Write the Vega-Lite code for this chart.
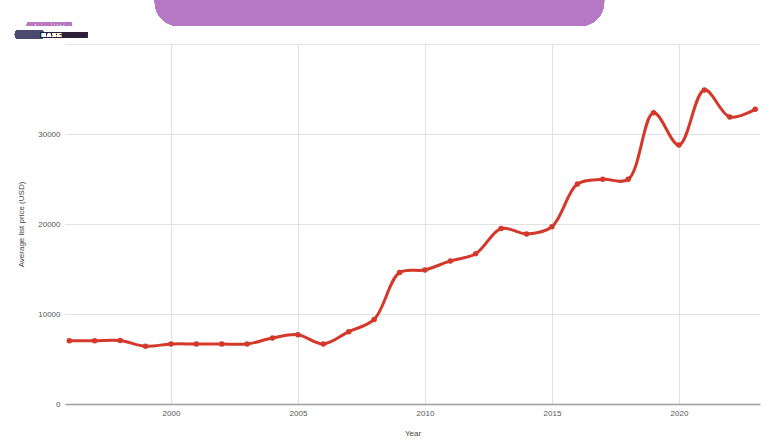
{
  "$schema": "https://vega.github.io/schema/vega-lite/v6.json",
  "width": 695,
  "height": 360,
  "autosize": {"type": "none"},
  "padding": {"left": 65, "top": 44, "right": 20, "bottom": 36},
  "background": "#ffffff",
  "config": {
    "view": {"stroke": null},
    "font": "Liberation Sans",
    "axis": {"labelFont": "Liberation Sans", "titleFont": "Liberation Sans", "labelColor": "#555555", "titleColor": "#444444", "labelFontSize": 8, "titleFontSize": 8, "titleFontWeight": "normal", "gridColor": "#e2e2e2", "gridWidth": 1, "ticks": false}
  },
  "data": {
    "values": [
      {"Year": 1996, "Price": 7030},
      {"Year": 1997, "Price": 7030},
      {"Year": 1998, "Price": 7050},
      {"Year": 1999, "Price": 6420},
      {"Year": 2000, "Price": 6670},
      {"Year": 2001, "Price": 6670},
      {"Year": 2002, "Price": 6670},
      {"Year": 2003, "Price": 6670},
      {"Year": 2004, "Price": 7330},
      {"Year": 2005, "Price": 7700},
      {"Year": 2006, "Price": 6670},
      {"Year": 2007, "Price": 8040},
      {"Year": 2008, "Price": 9400},
      {"Year": 2009, "Price": 14600},
      {"Year": 2010, "Price": 14900},
      {"Year": 2011, "Price": 15900},
      {"Year": 2012, "Price": 16700},
      {"Year": 2013, "Price": 19500},
      {"Year": 2014, "Price": 18900},
      {"Year": 2015, "Price": 19700},
      {"Year": 2016, "Price": 24450},
      {"Year": 2017, "Price": 24960},
      {"Year": 2018, "Price": 24960},
      {"Year": 2019, "Price": 32370},
      {"Year": 2020, "Price": 28780},
      {"Year": 2021, "Price": 34900},
      {"Year": 2022, "Price": 31900},
      {"Year": 2023, "Price": 32740}
    ]
  },
  "layer": [
    {
      "mark": {"type": "line", "interpolate": "catmull-rom", "color": "#d3382a", "strokeWidth": 3},
      "encoding": {
        "x": {"field": "Year", "type": "quantitative", "scale": {"domain": [1995.83, 2023.19], "nice": false, "zero": false},
          "axis": {"values": [2000, 2005, 2010, 2015, 2020], "format": "d", "title": "Year", "domainColor": "#9e9e9e", "domainWidth": 1.5, "labelPadding": 5, "titlePadding": 12}},
        "y": {"field": "Price", "type": "quantitative", "scale": {"domain": [0, 40000], "nice": false},
          "axis": {"values": [0, 10000, 20000, 30000, 40000], "format": "d", "labelExpr": "datum.value == 40000 ? '' : datum.label", "title": "Average list price (USD)", "domain": false, "labelPadding": 5, "titlePadding": 12}}
      }
    },
    {
      "mark": {"type": "point", "filled": true, "opacity": 1, "color": "#d3382a", "size": 30},
      "encoding": {
        "x": {"field": "Year", "type": "quantitative"},
        "y": {"field": "Price", "type": "quantitative"}
      }
    },
    {
      "mark": {"type": "rect", "color": "#b678c4", "cornerRadius": 24, "clip": false},
      "encoding": {
        "x": {"datum": 1999.37},
        "x2": {"datum": 2017.05},
        "y": {"datum": 42000},
        "y2": {"datum": 50000}
      }
    },
    {
      "mark": {"type": "rect", "color": "#4b4a6e", "cornerRadius": 4, "clip": false},
      "encoding": {
        "x": {"datum": 1993.86},
        "x2": {"datum": 1995.0},
        "y": {"datum": 40560},
        "y2": {"datum": 41550}
      }
    },
    {
      "mark": {"type": "rect", "color": "#2e1f3a", "clip": false},
      "encoding": {
        "x": {"datum": 1994.85},
        "x2": {"datum": 1996.7},
        "y": {"datum": 40720},
        "y2": {"datum": 41330}
      }
    },
    {
      "mark": {"type": "text", "text": "AUTOMOTIVES", "color": "#b678c4", "fontSize": 6, "fontWeight": "bold", "font": "Liberation Sans Narrow", "baseline": "middle", "clip": false},
      "encoding": {
        "x": {"datum": 1995.2},
        "y": {"datum": 42170}
      }
    },
    {
      "mark": {"type": "text", "text": "B A S E", "color": "#ffffff", "fontSize": 5.5, "fontWeight": "bold", "baseline": "middle", "clip": false},
      "encoding": {
        "x": {"datum": 1995.3},
        "y": {"datum": 41020}
      }
    }
  ]
}
